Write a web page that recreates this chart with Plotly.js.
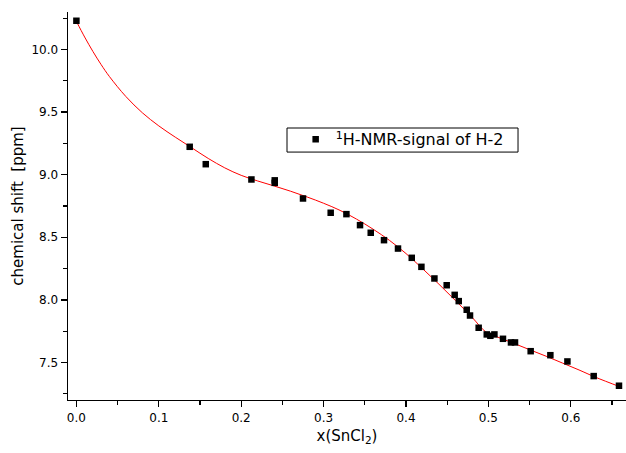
<!DOCTYPE html>
<html>
<head>
<meta charset="utf-8">
<script src="https://cdn.plot.ly/plotly-3.0.1.min.js"></script>
<style>html,body{margin:0;padding:0;background:#fff;}#chart{width:626px;height:453px;}</style>
</head>
<body>
<div id="chart"></div>
<script>
// measured data: mole fraction of SnCl2 vs chemical shift of H-2
const xData = [0.000, 0.1375, 0.157, 0.2124, 0.2407, 0.2407, 0.275, 0.3086, 0.3277, 0.3442, 0.3572,
  0.3733, 0.3903, 0.407, 0.4187, 0.4345, 0.4494, 0.4591, 0.464, 0.4737, 0.4777, 0.4882,
  0.498, 0.5024, 0.5073, 0.5177, 0.5274, 0.5323, 0.5513, 0.5752, 0.5959, 0.6278, 0.6585];
const yData = [10.230, 9.223, 9.084, 8.962, 8.955, 8.935, 8.810, 8.696, 8.685, 8.597, 8.536,
  8.477, 8.410, 8.336, 8.264, 8.171, 8.117, 8.040, 7.990, 7.921, 7.875, 7.777,
  7.724, 7.713, 7.724, 7.689, 7.660, 7.660, 7.590, 7.558, 7.508, 7.391, 7.314];
// fitted curve
const xFit = [0.000, 0.010, 0.020, 0.030, 0.040, 0.060, 0.080, 0.100, 0.120, 0.140, 0.160, 0.180,
  0.200, 0.220, 0.240, 0.260, 0.280, 0.300, 0.320, 0.340, 0.360, 0.380, 0.400, 0.420,
  0.440, 0.460, 0.480, 0.497, 0.510, 0.530, 0.550, 0.570, 0.590, 0.610, 0.630, 0.660];
const yFit = [10.225, 10.100, 9.985, 9.880, 9.785, 9.625, 9.495, 9.390, 9.300, 9.215, 9.130, 9.055,
  8.995, 8.950, 8.910, 8.868, 8.822, 8.772, 8.715, 8.645, 8.565, 8.475, 8.370, 8.250,
  8.125, 7.995, 7.862, 7.743, 7.706, 7.655, 7.602, 7.550, 7.495, 7.440, 7.382, 7.305];
const seriesName = '<sup>1</sup>H-NMR-signal of H-2';
const xTitle = 'x(SnCl<sub>2</sub>)';
const yTitle = 'chemical shift&nbsp; [ppm]';

const font = 'DejaVu Sans, sans-serif';
const traces = [
  {x: xFit, y: yFit, mode: 'lines', line: {color: '#ff0000', width: 1, shape: 'spline', smoothing: 1}, showlegend: false, hoverinfo: 'skip'},
  {x: xData, y: yData, mode: 'markers', name: seriesName,
   marker: {symbol: 'square', size: 6.5, color: '#000000'}}
];
const axisCommon = {
  showgrid: false, zeroline: false, showline: true, linecolor: '#000', linewidth: 1.4,
  ticks: 'outside', ticklen: 6, tickwidth: 1.3, tickcolor: '#000', mirror: false,
  tickfont: {family: font, size: 12, color: '#000'}, tickformat: '.1f'
};
const layout = {
  width: 626, height: 453,
  margin: {l: 68, r: 0, t: 12, b: 53},
  paper_bgcolor: '#fff', plot_bgcolor: '#fff',
  font: {family: font, color: '#000'},
  xaxis: Object.assign({}, axisCommon, {
    range: [-0.0102, 0.667], dtick: 0.1, tick0: 0,
    minor: {dtick: 0.05, ticks: 'outside', ticklen: 4, tickwidth: 1.3, tickcolor: '#000'},
    title: {text: xTitle, font: {family: font, size: 15, color: '#000'}, standoff: 6}
  }),
  yaxis: Object.assign({}, axisCommon, {
    range: [7.2, 10.3], dtick: 0.5, tick0: 0,
    minor: {dtick: 0.25, ticks: 'outside', ticklen: 4, tickwidth: 1.3, tickcolor: '#000'},
    title: {text: yTitle, font: {family: font, size: 15, color: '#000'}, standoff: 4}
  }),
  legend: {x: 0.408, y: 0.672, xanchor: 'left', yanchor: 'middle',
    borderwidth: 0, bgcolor: 'rgba(0,0,0,0)',
    font: {family: font, size: 16, color: '#000'}},
  shapes: [{type: 'rect', xref: 'paper', yref: 'paper',
    x0: 0.3925, x1: 0.8065, y0: 0.639, y1: 0.701,
    line: {color: '#000', width: 1}, fillcolor: 'rgba(0,0,0,0)', layer: 'below'}],
  showlegend: true
};
Plotly.newPlot('chart', traces, layout, {staticPlot: true});
</script>
</body>
</html>
